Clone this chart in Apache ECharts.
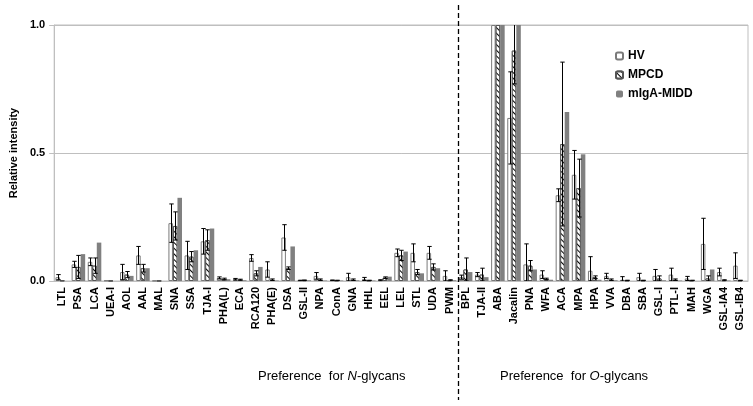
<!DOCTYPE html>
<html><head><meta charset="utf-8">
<script src="https://cdn.jsdelivr.net/npm/echarts@6/dist/echarts.min.js"></script>
<style>html,body{margin:0;padding:0;background:#fff}#c{width:753px;height:406px}</style>
</head><body><div id="c"></div>
<script>
const categories = ['LTL','PSA','LCA','UEA-I','AOL','AAL','MAL','SNA','SSA','TJA-I','PHA(L)','ECA','RCA120','PHA(E)','DSA','GSL-II','NPA','ConA','GNA','HHL','EEL','LEL','STL','UDA','PWM',
  'BPL','TJA-II','ABA','Jacalin','PNA','WFA','ACA','MPA','HPA','VVA','DBA','SBA','GSL-I','PTL-I','MAH','WGA','GSL-IA4','GSL-IB4'];
const hv      = [0.015,0.065,0.075,0.002,0.035,0.1,0.001,0.226,0.1,0.155,0.012,0.007,0.09,0.045,0.17,0.002,0.02,0.003,0.015,0.008,0.003,0.11,0.11,0.11,0.02,
  0.015,0.025,1.0,0.637,0.065,0.025,0.335,0.415,0.04,0.02,0.005,0.015,0.02,0.025,0.01,0.145,0.035,0.06];
const hvErr   = [0.01,0.012,0.015,0,0.03,0.035,0,0.075,0.055,0.05,0.004,0.003,0.013,0.03,0.05,0.001,0.013,0.001,0.015,0.006,0.002,0.015,0.035,0.025,0.02,
  0.008,0.008,0,0.18,0.08,0.015,0.025,0.095,0.055,0.01,0.012,0.015,0.025,0.025,0.008,0.1,0.015,0.05];
const mpcd    = [0.002,0.055,0.06,0.001,0.025,0.05,0.001,0.215,0.095,0.16,0.008,0.005,0.03,0.005,0.05,0.003,0.005,0.002,0.005,0.002,0.013,0.1,0.035,0.055,0.003,
  0.045,0.025,1.0,0.9,0.06,0.008,0.535,0.363,0.015,0.005,0.002,0.002,0.01,0.005,0.002,0.01,0.003,0.002];
const mpcdErr = [0,0.045,0.03,0,0.012,0.015,0,0.055,0.02,0.04,0.003,0.002,0.01,0.003,0.005,0.001,0.003,0.001,0.003,0.001,0.003,0.02,0.01,0.012,0.002,
  0.045,0.025,0,0.13,0.02,0.003,0.32,0.113,0.005,0.003,0.001,0.001,0.01,0.003,0.001,0.01,0.002,0.001];
const midd    = [0,0.105,0.15,0,0.02,0.05,0,0.325,0.12,0.205,0.007,0.003,0.055,0.002,0.135,0.003,0.002,0.002,0.003,0.002,0.017,0.115,0.03,0.05,0.003,
  0.035,0.015,1.0,1.0,0.045,0.005,0.66,0.495,0.005,0.003,0,0,0.003,0.002,0,0.045,0.002,0];
const seriesNames = ['HV','MPCD','mIgA-MIDD'];
const yTicks = [0, 0.5, 1.0];

const BAR_FRAC = 0.28;
const FONT = 'Liberation Sans, Arial, sans-serif';

function errSeries(means, errs, k) {
  return {
    type: 'custom', silent: true, clip: true, z: 5,
    data: means.map((m, i) => [i, m, errs[i]]),
    renderItem: function (params, api) {
      const i = api.value(0), m = api.value(1), e = api.value(2);
      if (!e) return null;
      const band = api.size([1, 0])[0];
      const off = k * band * BAR_FRAC;
      const top = api.coord([i, m + e]);
      const bot = api.coord([i, Math.max(0, m - e)]);
      const x = Math.round(top[0] + off) + 0.5;
      const cw = 2.2;
      const st = { stroke: '#000', lineWidth: 1 };
      return { type: 'group', children: [
        { type: 'line', shape: { x1: x, y1: top[1], x2: x, y2: bot[1] }, style: st },
        { type: 'line', shape: { x1: x - cw, y1: top[1], x2: x + cw, y2: top[1] }, style: st },
        { type: 'line', shape: { x1: x - cw, y1: bot[1], x2: x + cw, y2: bot[1] }, style: st }
      ]};
    }
  };
}

const chart = echarts.init(document.getElementById('c'), null, { renderer: 'canvas' });
chart.setOption({
  animation: false,
  textStyle: { fontFamily: FONT },
  grid: { left: 48, right: 5, top: 25, bottom: 125, show: true, borderColor: '#bfbfbf', borderWidth: 1 },
  legend: {
    data: seriesNames, orient: 'vertical', left: 610, top: 45, itemWidth: 7, itemHeight: 7, itemGap: 7,
    textStyle: { fontFamily: FONT, fontWeight: 'bold', fontSize: 12, color: '#000' }
  },
  xAxis: {
    type: 'category', data: categories,
    axisLine: { lineStyle: { color: '#bfbfbf' } },
    axisTick: { show: false },
    axisLabel: { rotate: 90, interval: 0, fontFamily: FONT, fontWeight: 'bold', fontSize: 11, color: '#000', margin: 6 }
  },
  yAxis: {
    type: 'value', min: 0, max: 1, interval: 0.5,
    name: 'Relative intensity', nameLocation: 'middle', nameGap: 34, nameRotate: 90,
    nameTextStyle: { fontFamily: FONT, fontWeight: 'bold', fontSize: 11, color: '#000' },
    axisLine: { show: true, lineStyle: { color: '#bfbfbf' } },
    axisTick: { show: true, length: 5, lineStyle: { color: '#bfbfbf' } },
    splitLine: { lineStyle: { color: '#bfbfbf' } },
    axisLabel: { fontFamily: FONT, fontWeight: 'bold', fontSize: 11, color: '#000', margin: 9,
      formatter: v => yTicks.indexOf(v) >= 0 ? v.toFixed(1) : '' }
  },
  series: [
    { name: 'HV', type: 'bar', data: hv, barWidth: (BAR_FRAC * 100) + '%', barGap: '0%',
      itemStyle: { color: '#ffffff', borderColor: '#7a7a7a', borderWidth: 1 } },
    { name: 'MPCD', type: 'bar', data: mpcd, barWidth: (BAR_FRAC * 100) + '%', barGap: '0%',
      itemStyle: { color: '#ffffff', borderColor: '#555', borderWidth: 1,
        decal: { symbol: 'rect', symbolSize: 1, dashArrayX: [1, 0], dashArrayY: [1, 2.2], rotation: Math.PI / 4, color: '#000', backgroundColor: '#fff' } } },
    { name: 'mIgA-MIDD', type: 'bar', data: midd, barWidth: (BAR_FRAC * 100) + '%', barGap: '0%',
      itemStyle: { color: '#808080' } },
    errSeries(hv, hvErr, -1),
    errSeries(mpcd, mpcdErr, 0)
  ]
});

const xa = chart.convertToPixel({ xAxisIndex: 0 }, 24);
const xb = chart.convertToPixel({ xAxisIndex: 0 }, 25);
const xd = Math.round((xa + xb) / 2) + 0.5;
chart.setOption({
  graphic: [
    { type: 'line', shape: { x1: xd, y1: 5, x2: xd, y2: 400 }, style: { stroke: '#000', lineWidth: 1.3, lineDash: [5, 3] }, z: 10 },
    { type: 'text', left: 258, top: 370, style: { text: '{n|Preference  for }{i|N}{n|-glycans}', rich: {
        n: { fontFamily: FONT, fontSize: 13, fill: '#000' }, i: { fontFamily: FONT, fontSize: 13, fontStyle: 'italic', fill: '#000' } } } },
    { type: 'text', left: 500, top: 370, style: { text: '{n|Preference  for }{i|O}{n|-glycans}', rich: {
        n: { fontFamily: FONT, fontSize: 13, fill: '#000' }, i: { fontFamily: FONT, fontSize: 13, fontStyle: 'italic', fill: '#000' } } } }
  ]
});
</script></body></html>
